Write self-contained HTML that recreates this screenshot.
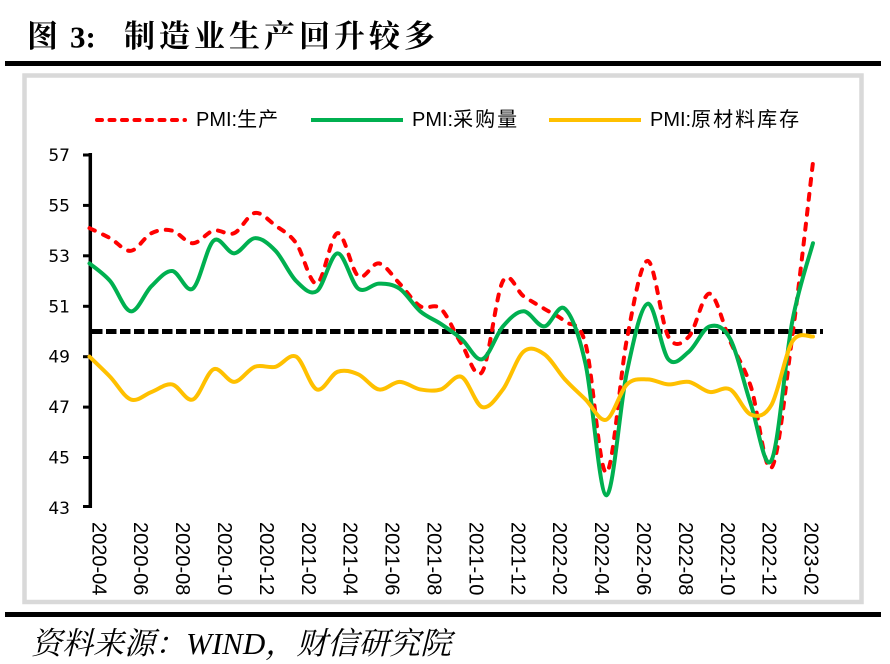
<!DOCTYPE html>
<html>
<head>
<meta charset="utf-8">
<style>
  html,body{margin:0;padding:0;background:#fff;}
  svg{display:block;}
</style>
</head>
<body>
<svg id="chart" width="890" height="664" viewBox="0 0 890 664" xmlns="http://www.w3.org/2000/svg">
  <rect x="0" y="0" width="890" height="664" fill="#fff"/>

  <!-- Title -->
  <text x="27" y="47" font-family="'Liberation Serif','Noto Serif CJK SC',serif" font-weight="bold" font-size="31" fill="#000">图</text>
  <text x="70" y="47.5" font-family="'Liberation Serif','Noto Serif CJK SC',serif" font-weight="bold" font-size="31" fill="#000">3:</text>
  <text x="124" y="47" font-family="'Liberation Serif','Noto Serif CJK SC',serif" font-weight="bold" font-size="31" letter-spacing="4" fill="#000">制造业生产回升较多</text>

  <rect x="5" y="61" width="876" height="5" fill="#000"/>
  <rect x="24.5" y="75.5" width="837" height="526.5" fill="none" stroke="#d9d9d9" stroke-width="4.5"/>
  <rect x="5" y="612" width="876" height="5" fill="#000"/>

  <!-- Legend -->
  <line x1="97" y1="120" x2="185" y2="120" stroke="#ff0000" stroke-width="4" stroke-dasharray="5 7.5" stroke-linecap="round"/>
  <text x="196" y="126" font-family="'Liberation Sans','Noto Sans CJK SC',sans-serif" font-size="20" fill="#000">PMI:<tspan letter-spacing="1">生产</tspan></text>
  <line x1="311" y1="120" x2="403" y2="120" stroke="#00b050" stroke-width="4"/>
  <text x="412" y="126" font-family="'Liberation Sans','Noto Sans CJK SC',sans-serif" font-size="20" fill="#000">PMI:<tspan letter-spacing="2">采购量</tspan></text>
  <line x1="549" y1="120" x2="641" y2="120" stroke="#ffc000" stroke-width="4"/>
  <text x="650" y="126" font-family="'Liberation Sans','Noto Sans CJK SC',sans-serif" font-size="20" fill="#000">PMI:<tspan letter-spacing="2">原材料库存</tspan></text>

  <!-- Y axis -->
  <line x1="90.3" y1="153" x2="90.3" y2="508" stroke="#000" stroke-width="3.5"/>
  <g stroke="#000" stroke-width="3">
    <line x1="83" y1="155" x2="90" y2="155"/>
    <line x1="83" y1="205.4" x2="90" y2="205.4"/>
    <line x1="83" y1="255.8" x2="90" y2="255.8"/>
    <line x1="83" y1="306.3" x2="90" y2="306.3"/>
    <line x1="83" y1="356.7" x2="90" y2="356.7"/>
    <line x1="83" y1="407.1" x2="90" y2="407.1"/>
    <line x1="83" y1="457.5" x2="90" y2="457.5"/>
    <line x1="83" y1="506.5" x2="90" y2="506.5"/>
  </g>
  <g font-family="'DejaVu Sans','Liberation Sans',sans-serif" font-size="17" fill="#000" text-anchor="end">
    <text x="70" y="161">57</text>
    <text x="70" y="211.4">55</text>
    <text x="70" y="261.8">53</text>
    <text x="70" y="312.3">51</text>
    <text x="70" y="362.7">49</text>
    <text x="70" y="413.1">47</text>
    <text x="70" y="463.5">45</text>
    <text x="70" y="514">43</text>
  </g>

  <!-- X labels -->
  <g font-family="'Liberation Sans',sans-serif" font-size="20" fill="#000">
    <text transform="translate(92.3,522) rotate(90)">2020-04</text>
    <text transform="translate(134.2,522) rotate(90)">2020-06</text>
    <text transform="translate(176.1,522) rotate(90)">2020-08</text>
    <text transform="translate(218.0,522) rotate(90)">2020-10</text>
    <text transform="translate(259.9,522) rotate(90)">2020-12</text>
    <text transform="translate(301.8,522) rotate(90)">2021-02</text>
    <text transform="translate(343.7,522) rotate(90)">2021-04</text>
    <text transform="translate(385.6,522) rotate(90)">2021-06</text>
    <text transform="translate(427.5,522) rotate(90)">2021-08</text>
    <text transform="translate(469.4,522) rotate(90)">2021-10</text>
    <text transform="translate(511.3,522) rotate(90)">2021-12</text>
    <text transform="translate(553.2,522) rotate(90)">2022-02</text>
    <text transform="translate(595.1,522) rotate(90)">2022-04</text>
    <text transform="translate(637.0,522) rotate(90)">2022-06</text>
    <text transform="translate(678.9,522) rotate(90)">2022-08</text>
    <text transform="translate(720.8,522) rotate(90)">2022-10</text>
    <text transform="translate(762.7,522) rotate(90)">2022-12</text>
    <text transform="translate(804.6,522) rotate(90)">2023-02</text>
  </g>

  <!-- 50 line -->
  <line x1="92" y1="331.5" x2="823" y2="331.5" stroke="#000" stroke-width="5" stroke-dasharray="10.5 3.5"/>

  <!-- Series -->
  <path id="sRed" d="" fill="none" stroke="#ff0000" stroke-width="4" stroke-dasharray="6 9" stroke-linecap="round" stroke-linejoin="round"/>
  <path id="sGreen" d="" fill="none" stroke="#00b050" stroke-width="4" stroke-linecap="round" stroke-linejoin="round"/>
  <path id="sYellow" d="" fill="none" stroke="#ffc000" stroke-width="4" stroke-linecap="round" stroke-linejoin="round"/>

  <!-- Footer -->
  <text x="31" y="654" font-family="'Liberation Serif','Noto Serif CJK SC',serif" font-style="italic" font-size="31" fill="#000">资料来源：WIND，财信研究院</text>
</svg>
<script>
(function(){
  var red=[54.1,53.7,53.2,53.9,54.0,53.5,54.0,53.9,54.7,54.2,53.5,51.9,53.9,52.2,52.7,51.9,51.0,50.9,49.5,48.4,52.0,51.4,50.9,50.4,49.5,44.4,49.7,52.8,49.8,49.8,51.5,49.6,47.8,44.6,49.8,56.7];
  var green=[52.7,52.0,50.8,51.8,52.4,51.7,53.6,53.1,53.7,53.2,52.0,51.6,53.1,51.7,51.9,51.7,50.8,50.3,49.7,48.9,50.2,50.8,50.2,50.9,48.7,43.5,48.4,51.1,48.9,49.2,50.2,49.7,47.1,44.9,50.4,53.5];
  var yellow=[49.0,48.2,47.3,47.6,47.9,47.3,48.5,48.0,48.6,48.6,49.0,47.7,48.4,48.3,47.7,48.0,47.7,47.7,48.2,47.0,47.7,49.2,49.1,48.1,47.3,46.5,47.9,48.1,47.9,48.0,47.6,47.7,46.7,47.1,49.6,49.8];
  var X0=89.5, DX=20.67;
  function Y(v){return 155+(57-v)*25.21;}
  function path(vals){
    var p=vals.map(function(v,i){return [X0+i*DX, Y(v)];});
    var d='M'+p[0][0].toFixed(2)+','+p[0][1].toFixed(2);
    for(var i=0;i<p.length-1;i++){
      var p0=p[i-1]||p[i], p1=p[i], p2=p[i+1], p3=p[i+2]||p[i+1];
      var c1x=p1[0]+(p2[0]-p0[0])/6, c1y=p1[1]+(p2[1]-p0[1])/6;
      var c2x=p2[0]-(p3[0]-p1[0])/6, c2y=p2[1]-(p3[1]-p1[1])/6;
      d+=' C'+c1x.toFixed(2)+','+c1y.toFixed(2)+' '+c2x.toFixed(2)+','+c2y.toFixed(2)+' '+p2[0].toFixed(2)+','+p2[1].toFixed(2);
    }
    return d;
  }
  document.getElementById('sRed').setAttribute('d',path(red));
  document.getElementById('sGreen').setAttribute('d',path(green));
  document.getElementById('sYellow').setAttribute('d',path(yellow));
})();
</script>
</body>
</html>
